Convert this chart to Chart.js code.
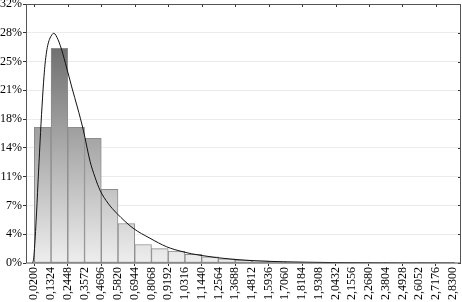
<!DOCTYPE html>
<html>
<head>
<meta charset="utf-8">
<script src="https://cdn.jsdelivr.net/npm/chart.js@4.4.0/dist/chart.umd.min.js"></script>
<style>
html,body{margin:0;padding:0;background:#fff;}
#wrap{width:462px;height:302px;}
#fontprobe{position:absolute;left:-999px;top:-999px;font-family:"Liberation Serif";font-size:12px;}
</style>
</head>
<body>
<div id="fontprobe">0,1234%</div>
<div id="wrap"><canvas id="c" width="462" height="302"></canvas></div>
<script>
// Bin edges (x tick labels) of the histogram
const binEdges = [0.0200, 0.1324, 0.2448, 0.3572, 0.4696, 0.5820, 0.6944, 0.8068, 0.9192, 1.0316,
  1.1440, 1.2564, 1.3688, 1.4812, 1.5936, 1.7060, 1.8184, 1.9308, 2.0432, 2.1556,
  2.2680, 2.3804, 2.4928, 2.6052, 2.7176, 2.8300];
const xTickLabels = ["0,0200","0,1324","0,2448","0,3572","0,4696","0,5820","0,6944","0,8068","0,9192","1,0316",
  "1,1440","1,2564","1,3688","1,4812","1,5936","1,7060","1,8184","1,9308","2,0432","2,1556",
  "2,2680","2,3804","2,4928","2,6052","2,7176","2,8300"];
// Bar heights (percent of observations per bin)
const barPercents = [16.5, 26.1, 16.5, 15.15, 8.95, 4.8, 2.25, 1.75, 1.45, 1.05,
  0.75, 0.5, 0.35, 0.25, 0.18, 0.12, 0.08, 0.06, 0.04, 0.03,
  0.02, 0.01, 0.01, 0.01, 0.0];
// Fitted density curve
const curveX = [0.0079, 0.0146, 0.0247, 0.0314, 0.0381, 0.0448, 0.0516, 0.0583, 0.065, 0.0717,
  0.0784, 0.0851, 0.0919, 0.1019, 0.112, 0.1254, 0.1369, 0.1476, 0.159, 0.1726,
  0.1859, 0.204, 0.2376, 0.2732, 0.3088, 0.3491, 0.3941, 0.4277, 0.4612, 0.515,
  0.5734, 0.6829, 0.797, 0.9092, 1.0187, 1.1329, 1.3545, 1.5829, 1.8045, 2.0731,
  2.476, 2.845];
const curveY = [0, 0.45, 2.76, 4.96, 7.27, 9.83, 12.26, 14.7, 17.01, 19.08,
  21.03, 22.73, 24.19, 25.65, 26.63, 27.36, 27.72, 27.93, 27.85, 27.42,
  26.87, 25.9, 23.71, 21.28, 18.97, 16.16, 12.38, 10.43, 8.85, 7.27,
  6.05, 4.24, 3.01, 1.97, 1.36, 0.94, 0.45, 0.21, 0.11, 0.04,
  0, 0];
const yTickValues = [0, 3.5, 7, 10.5, 14, 17.5, 21, 24.5, 28, 31.5];

const barData = barPercents.map((v, i) => ({x: (binEdges[i] + binEdges[i + 1]) / 2, y: v}));
const curveData = curveX.map((x, i) => ({x: x, y: curveY[i]}));

const FONT = {family: '"Liberation Serif", serif', size: 12};

function barGradient(ctx) {
  const chart = ctx.chart;
  const a = chart.chartArea;
  if (!a) return '#aaa';
  const g = chart.ctx.createLinearGradient(0, a.top, 0, a.bottom);
  g.addColorStop(0, '#565656');
  g.addColorStop(0.17, '#707070');
  g.addColorStop(1, '#eeeeee');
  return g;
}

const framePlugin = {
  id: 'frame',
  afterDraw(chart) {
    const c = chart.ctx, a = chart.chartArea;
    const xs = chart.scales.x, ys = chart.scales.y;
    c.save();
    c.strokeStyle = '#333';
    c.lineWidth = 1;
    c.beginPath();
    binEdges.forEach((v, i) => {
      if (i % 2 === 0) {
        const px = Math.round(xs.getPixelForValue(v)) + 0.5;
        c.moveTo(px, a.top); c.lineTo(px, a.top + 3);
      }
    });
    yTickValues.forEach(v => {
      const py = Math.round(ys.getPixelForValue(v)) + 0.5;
      c.moveTo(a.right, py); c.lineTo(a.right - 3, py);
    });
    c.stroke();
    c.strokeStyle = '#555';
    c.strokeRect(Math.round(a.left) + 0.5, Math.round(a.top) + 0.5,
      Math.round(a.right - a.left) - 1, Math.round(a.bottom - a.top) - 0.5);
    c.restore();
  }
};

function draw() {
  new Chart(document.getElementById('c'), {
    data: {
      datasets: [
        {
          type: 'line',
          data: curveData,
          borderColor: '#111',
          borderWidth: 1,
          pointRadius: 0,
          cubicInterpolationMode: 'monotone',
          fill: false,
          order: 0
        },
        {
          type: 'bar',
          data: barData,
          backgroundColor: barGradient,
          borderColor: '#8c8c8c',
          borderWidth: 1,
          borderSkipped: false,
          barPercentage: 1,
          categoryPercentage: 1,
          order: 1
        }
      ]
    },
    options: {
      responsive: false,
      animation: false,
      devicePixelRatio: 1,
      layout: {padding: {top: 4, right: 1, left: 0, bottom: 0}},
      plugins: {legend: {display: false}, tooltip: {enabled: false}},
      scales: {
        x: {
          type: 'linear',
          offset: false,
          min: -0.036,
          max: 2.886,
          afterBuildTicks: s => { s.ticks = binEdges.map(v => ({value: v})); },
          afterFit: s => { s.height = 39; s.paddingLeft = 0; s.paddingRight = 0; },
          border: {display: false},
          grid: {
            offset: false,
            drawOnChartArea: false,
            drawTicks: true,
            tickLength: 3,
            tickColor: ctx => (ctx.index % 2 === 0 ? '#333' : 'rgba(0,0,0,0)')
          },
          ticks: {
            autoSkip: false,
            maxRotation: 90,
            minRotation: 90,
            padding: 1,
            color: '#000',
            font: FONT,
            callback: (v, i) => xTickLabels[i]
          }
        },
        y: {
          type: 'linear',
          min: 0,
          max: 31.5,
          afterBuildTicks: s => { s.ticks = yTickValues.map(v => ({value: v})); },
          afterFit: s => { s.width = 26; s.paddingTop = 0; s.paddingBottom = 0; },
          border: {display: false},
          grid: {
            color: '#ececec',
            lineWidth: 1,
            drawTicks: true,
            tickLength: 3,
            tickColor: '#333'
          },
          ticks: {
            padding: 1,
            color: '#000',
            font: FONT,
            callback: v => Math.round(v) + '%'
          }
        }
      }
    },
    plugins: [framePlugin]
  });
}

if (document.fonts && document.fonts.load) {
  document.fonts.load('12px "Liberation Serif"').then(draw, draw);
} else {
  draw();
}
</script>
</body>
</html>
